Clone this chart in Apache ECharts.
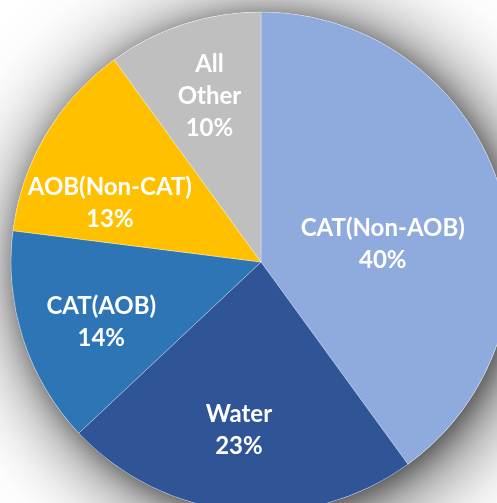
<!DOCTYPE html>
<html>
<head>
<meta charset="utf-8">
<script src="https://cdn.jsdelivr.net/npm/echarts@6/dist/echarts.min.js"></script>
<style>
html,body{margin:0;padding:0;background:#fff;}
#chart{width:497px;height:503px;}
</style>
</head>
<body>
<div id="chart"></div>
<script>
var categories = ['CAT(Non-AOB)', 'Water', 'CAT(AOB)', 'AOB(Non-CAT)', 'All Other'];
var labelTexts = ['CAT(Non-AOB)', 'Water', 'CAT(AOB)', 'AOB(Non-CAT)', 'All\nOther'];
var values = [40, 23, 14, 13, 10];
var colors = ['#8FAADC', '#2F5597', '#2E75B6', '#FFC000', '#BFBFBF'];
var labelShift = [[0, 22], [-10, 41], [-38, 21], [-41, 6], [-12, -44]];

function shadowLayer(blur, alpha, off) {
  return {
    type: 'pie',
    silent: true,
    center: [261, 262],
    radius: 250,
    label: {show: false},
    labelLine: {show: false},
    itemStyle: {
      color: '#ffffff',
      shadowBlur: blur,
      shadowColor: 'rgba(0,0,0,' + alpha + ')',
      shadowOffsetX: off,
      shadowOffsetY: off
    },
    data: [{value: 1, name: 'bg'}]
  };
}

var chart = echarts.init(document.getElementById('chart'), null, {renderer: 'canvas'});
chart.setOption({
  backgroundColor: '#ffffff',
  animation: false,
  series: [
    shadowLayer(90, 0.8, 10),
    shadowLayer(25, 0.35, 4),
    {
      type: 'pie',
      center: [261, 262],
      radius: 250,
      startAngle: 90,
      clockwise: true,
      itemStyle: {borderColor: 'rgba(255,255,255,0.5)', borderWidth: 0.6},
      label: {
        show: true,
        position: 'inside',
        color: '#ffffff',
        fontFamily: 'Lato',
        fontWeight: 'bold',
        fontSize: 24,
        lineHeight: 32,
        align: 'center',
        formatter: function (p) { return labelTexts[p.dataIndex] + '\n' + p.percent.toFixed(0) + '%'; }
      },
      labelLayout: function (p) {
        var s = labelShift[p.dataIndex];
        return {dx: s[0], dy: s[1]};
      },
      labelLine: {show: false},
      data: categories.map(function (c, i) {
        return {name: c, value: values[i], itemStyle: {color: colors[i]}};
      })
    }
  ]
});
</script>
</body>
</html>
